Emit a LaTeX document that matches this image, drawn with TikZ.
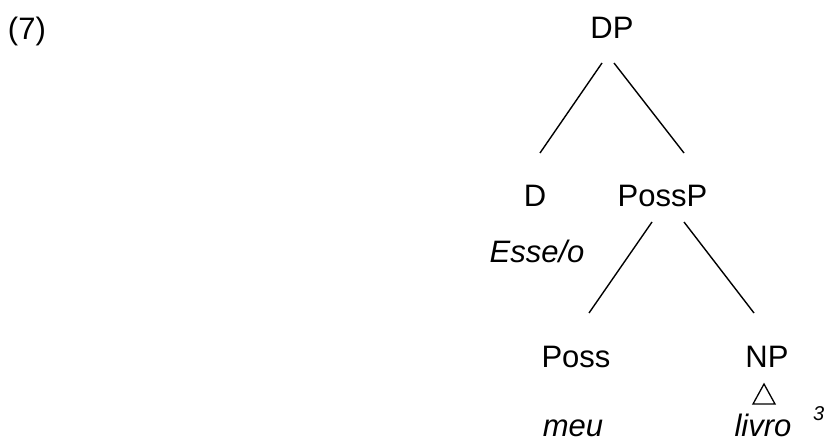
\documentclass[tikz,border=0pt]{standalone}
\usepackage{fontspec}
\setmainfont{Liberation Sans}
\begin{document}
\begin{tikzpicture}[x=1pt,y=1pt,
  every node/.style={inner sep=0pt,outer sep=0pt},
  cat/.style={anchor=base,font=\fontsize{31}{37}\selectfont},
  word/.style={anchor=base,font=\fontsize{31}{37}\selectfont\itshape},
  branch/.style={line width=1.4pt},
  roof/.style={line width=1.3pt,line join=miter}]
\useasboundingbox (0,0) rectangle (827,-443);

% example number
\node[cat,anchor=base west] (num) at (8,-40) {(7)};

% categories
\node[cat] (DP)    at (612,-39)    {DP};
\node[cat] (D)     at (535,-207)   {D};
\node[cat] (PossP) at (662.5,-207) {PossP};
\node[cat] (Poss)  at (576,-368)   {Poss};
\node[cat] (NP)    at (767,-368)   {NP};

% lexical items
\node[word] (esse)  at (537,-263) {Esse/o};
\node[word] (meu)   at (573,-436) {meu};
\node[word] (livro) at (763,-436) {livro};
\node[anchor=base west,font=\fontsize{20}{24}\selectfont\itshape] (fn) at (813,-420) {3};

% branches
\draw[branch] ([shift={(-10pt,-24pt)}]DP.base) -- ([shift={(5pt,54pt)}]D.base);
\draw[branch] ([shift={(2pt,-24pt)}]DP.base) -- ([shift={(21.5pt,54pt)}]PossP.base);
\draw[branch] ([shift={(-10.5pt,-15pt)}]PossP.base) -- ([shift={(13pt,55pt)}]Poss.base);
\draw[branch] ([shift={(21.5pt,-15pt)}]PossP.base) -- ([shift={(-13pt,55pt)}]NP.base);

% triangle under NP
\draw[roof] ([shift={(-3pt,-16pt)}]NP.base) -- ([shift={(-14pt,-36pt)}]NP.base)
  -- ([shift={(8pt,-36pt)}]NP.base) -- cycle;
\end{tikzpicture}
\end{document}
